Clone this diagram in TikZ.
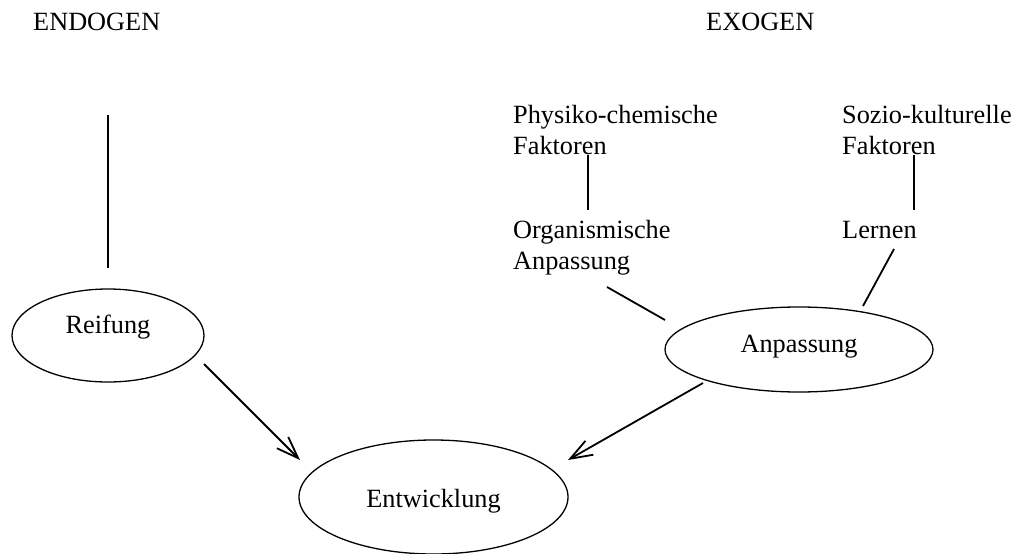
\documentclass[tikz,border=0pt]{standalone}
\usepackage{fontspec}
\setmainfont{Liberation Serif}
\usetikzlibrary{shapes.geometric,arrows.meta}
\begin{document}
\begin{tikzpicture}[x=1pt,y=-1pt,
  every node/.style={inner sep=0pt,font=\fontsize{26.3}{31}\selectfont},
  lbl/.style={anchor=base west,align=left},
  oval/.style={draw,ellipse,line width=1.3pt,inner sep=0pt},
  conn/.style={line width=1.8pt},
  arr/.style={line width=1.8pt,-{Straight Barb[length=22pt,width=16pt,line width=1.8pt]}}]
\useasboundingbox (0,0) rectangle (1015,554);
% headings
\node[lbl] (endo) at (33,30) {ENDOGEN};
\node[lbl] (exo) at (706,30) {EXOGEN};
% texts
\node[lbl] (phys) at (513,123) {\begin{tabular}[t]{@{}l@{}}Physiko-chemische\\Faktoren\end{tabular}};
\node[lbl] (sozio) at (842,123) {\begin{tabular}[t]{@{}l@{}}Sozio-kulturelle\\Faktoren\end{tabular}};
\node[lbl] (org) at (513,238) {\begin{tabular}[t]{@{}l@{}}Organismische\\Anpassung\end{tabular}};
\node[lbl] (lern) at (842,238) {Lernen};
% ellipses
\node[oval,minimum width=192pt,minimum height=93pt,text height=10pt,text depth=15pt] (reif) at (108,335.5) {Reifung};
\node[oval,minimum width=268pt,minimum height=85pt,text height=18pt,text depth=12pt] (anp) at (799,349.5) {Anpassung};
\node[oval,minimum width=269pt,minimum height=114pt,text height=20pt,text depth=0pt] (entw) at (433.5,497) {Entwicklung};
% free line ends
\coordinate (r1) at (108,115);
\coordinate (r2) at (108,268);
\coordinate (p1) at (588,155);
\coordinate (p2) at (588,210);
\coordinate (s1) at (914,155);
\coordinate (s2) at (914,210);
\coordinate (o1) at (607,287);
\coordinate (o2) at (665,320);
\coordinate (l1) at (894,249);
\coordinate (l2) at (863,306);
\coordinate (a1) at (204,364);
\coordinate (a2) at (300,460);
\coordinate (b1) at (703,383);
\coordinate (b2) at (568,460);
% connectors
\draw[conn] (r1) -- (r2);
\draw[conn] (p1) -- (p2);
\draw[conn] (s1) -- (s2);
\draw[conn] (o1) -- (o2);
\draw[conn] (l1) -- (l2);
\draw[arr] (a1) -- (a2);
\draw[arr] (b1) -- (b2);
\end{tikzpicture}
\end{document}
